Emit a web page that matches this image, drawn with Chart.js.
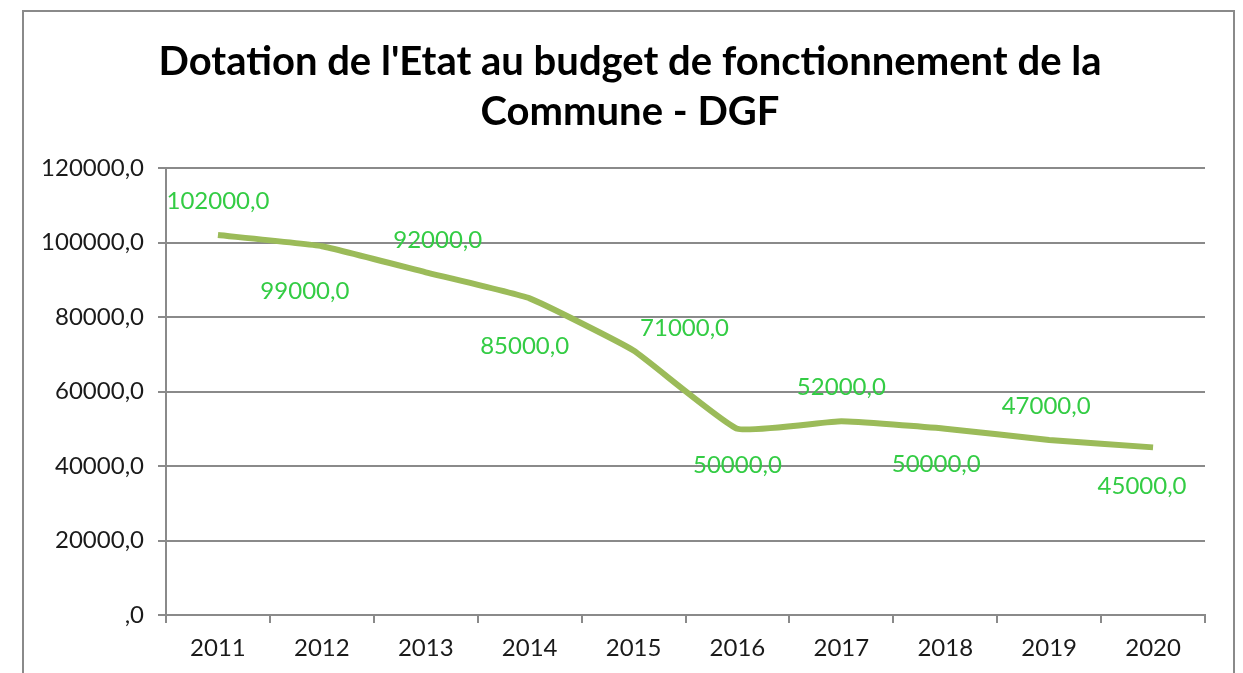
<!DOCTYPE html>
<html>
<head>
  <title>Dotation de l'Etat - DGF</title>
  <style>
    body {
      margin: 0;
      padding: 0;
      background: #ffffff;
      overflow: hidden;
    }

    .frame {
      position: absolute;
      left: 22px;
      top: 10px;
      width: 1209px;
      height: 720px;
      border: 2px solid #8a8a8a;
    }

    .chart-title {
      position: absolute;
      left: 22px;
      top: 35px;
      width: 1216px;
      margin: 0;
      text-align: center;
      font-family: Lato, "Open Sans", sans-serif;
      font-weight: bold;
      font-size: 40px;
      line-height: 50px;
      color: #000;
      white-space: nowrap;
    }

    #chart {
      position: absolute;
      left: 0;
      top: 0;
    }
  </style>
</head>
<body>
  <div class="frame"></div>
  <canvas id="chart" width="1243" height="673"></canvas>
  <h1 class="chart-title" id="title"></h1>

  <script src="https://cdn.jsdelivr.net/npm/chart.js"></script>
  <script>
    const years = ['2011', '2012', '2013', '2014', '2015', '2016', '2017', '2018', '2019', '2020'];
    const dgf = [102000, 99000, 92000, 85000, 71000, 50000, 52000, 50000, 47000, 45000];
    const yTicks = [0, 20000, 40000, 60000, 80000, 100000, 120000];
    const titleLines = ["Dotation de l'Etat au budget de fonctionnement de la", 'Commune - DGF'];

    const titleEl = document.getElementById('title');
    titleLines.forEach((t, i) => {
      if (i) titleEl.appendChild(document.createElement('br'));
      titleEl.appendChild(document.createTextNode(t));
    });

    const fmt = v => (v === 0 ? '' : String(v)) + ',0';

    // small hand nudges so labels sit where Excel put them
    const labelNudge = [[0, 0], [-17, 5], [12, 2], [-5, 8], [51, 12], [0, -3], [0, 0], [-9, -4], [-3, 0], [-11, -1]];

    const pointLabels = {
      id: 'pointLabels',
      afterDatasetsDraw(chart) {
        const ctx = chart.ctx;
        const meta = chart.getDatasetMeta(0);
        ctx.save();
        ctx.font = '24px Lato, "Open Sans", sans-serif';
        ctx.fillStyle = '#33cc44';
        ctx.textAlign = 'center';
        ctx.textBaseline = 'middle';
        meta.data.forEach((pt, i) => {
          const above = i % 2 === 0;
          const n = labelNudge[i] || [0, 0];
          ctx.fillText(fmt(dgf[i]), pt.x + n[0], pt.y + (above ? -34 : 40) + n[1]);
        });
        ctx.restore();
      }
    };

    new Chart(document.getElementById('chart').getContext('2d'), {
      type: 'line',
      data: {
        labels: years,
        datasets: [{
          data: dgf,
          borderColor: '#9bbb59',
          borderWidth: 6,
          pointRadius: 0,
          tension: 0.12,
          fill: false
        }]
      },
      options: {
        responsive: false,
        animation: false,
        layout: { padding: { left: 0, right: 38, top: 168, bottom: 0 } },
        plugins: {
          legend: { display: false },
          tooltip: { enabled: false },
          title: { display: false }
        },
        scales: {
          x: {
            offset: true,
            grid: { offset: true, drawOnChartArea: false, drawTicks: true, tickLength: 8, color: '#8a8a8a', lineWidth: 2 },
            border: { display: true, color: '#8a8a8a', width: 2 },
            ticks: { color: '#1a1a1a', font: { family: 'Lato, "Open Sans", sans-serif', size: 24 }, padding: 11, maxRotation: 0 },
            afterFit: s => { s.height = 58; }
          },
          y: {
            min: 0,
            max: 120000,
            afterBuildTicks: s => { s.ticks = yTicks.map(v => ({ value: v })); },
            grid: { color: '#8a8a8a', lineWidth: 2, drawTicks: true, tickLength: 8 },
            border: { display: true, color: '#8a8a8a', width: 2 },
            ticks: {
              color: '#1a1a1a',
              font: { family: 'Lato, "Open Sans", sans-serif', size: 24 },
              padding: 14,
              callback: v => fmt(v)
            },
            afterFit: s => { s.width = 166; }
          }
        }
      },
      plugins: [pointLabels]
    });
  </script>
</body>
</html>
